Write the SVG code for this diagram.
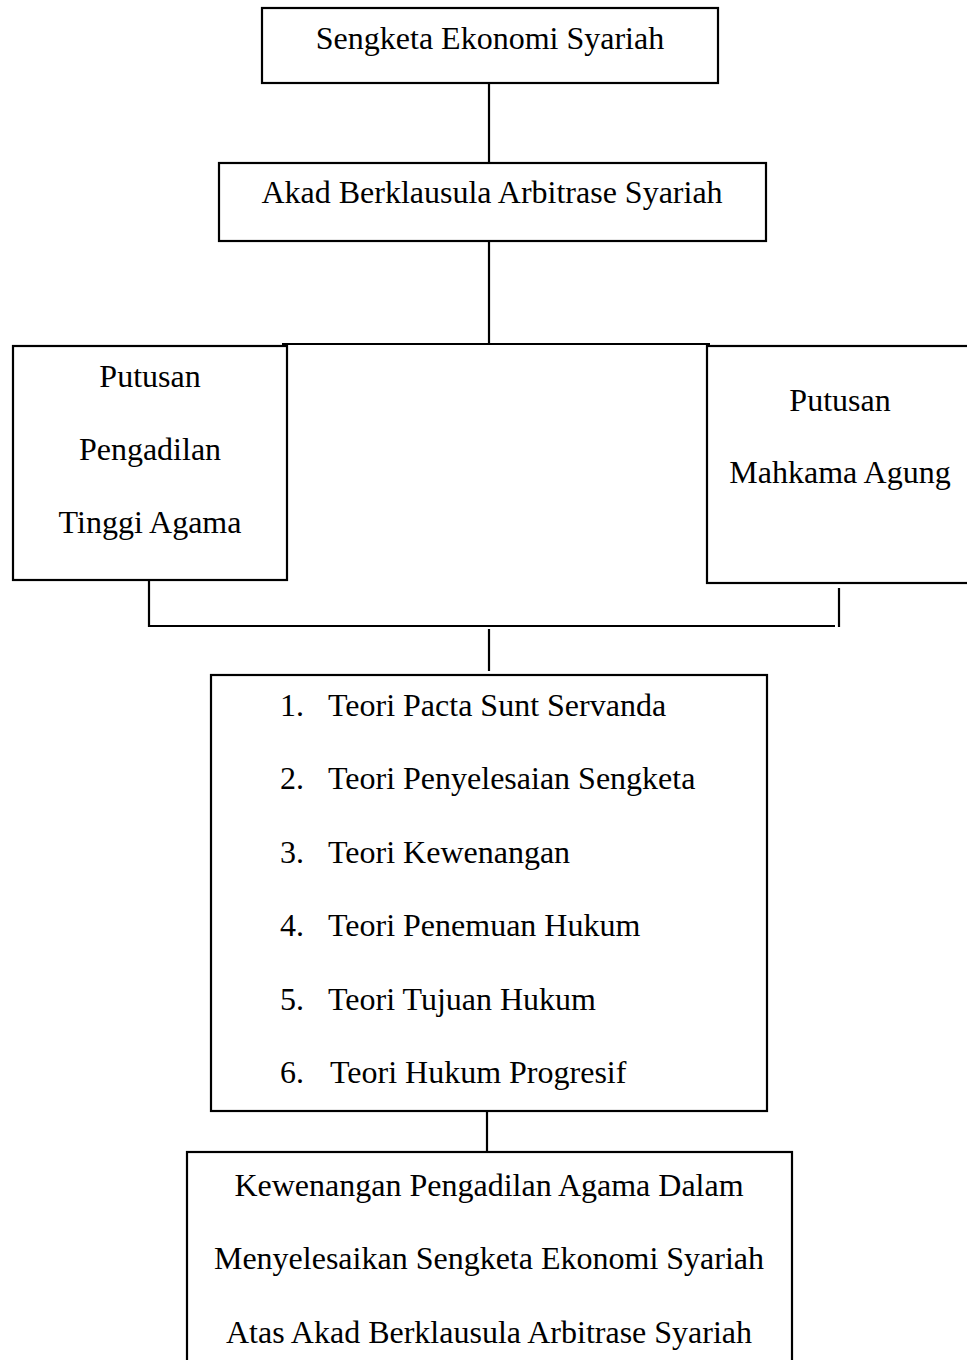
<svg xmlns="http://www.w3.org/2000/svg" width="967" height="1360" viewBox="0 0 967 1360">
<style>
.box{fill:#fff;stroke:#000;stroke-width:2.2}
.ln{fill:none;stroke:#000;stroke-width:2.2}
.t{font-family:"Liberation Serif","Times New Roman",serif;font-size:32px;fill:#000}
.c{text-anchor:middle}
</style>
<rect width="967" height="1360" fill="#fff"/>
<g id="connectors">
<line class="ln" x1="489" y1="83" x2="489" y2="163"/>
<line class="ln" x1="489" y1="241" x2="489" y2="344"/>
<line class="ln" x1="282" y1="344" x2="710" y2="344"/>
<polyline class="ln" points="149,580 149,626 835,626"/>
<line class="ln" x1="839" y1="588" x2="839" y2="627"/>
<line class="ln" x1="489" y1="629" x2="489" y2="671"/>
<line class="ln" x1="487" y1="1111" x2="487" y2="1152"/>
</g>
<g id="sengketa">
<rect class="box" x="262" y="8" width="456" height="75"/>
<text class="t c" x="490" y="49">Sengketa Ekonomi Syariah</text>
</g>
<g id="akad">
<rect class="box" x="219" y="163" width="547" height="78"/>
<text class="t c" x="492" y="203">Akad Berklausula Arbitrase Syariah</text>
</g>
<g id="pta">
<rect class="box" x="13" y="346" width="274" height="234"/>
<text class="t c" x="150" y="387">Putusan</text>
<text class="t c" x="150" y="460">Pengadilan</text>
<text class="t c" x="150" y="533">Tinggi Agama</text>
</g>
<g id="ma">
<rect class="box" x="707" y="346" width="280" height="237"/>
<text class="t c" x="840" y="411">Putusan</text>
<text class="t c" x="840" y="483">Mahkama Agung</text>
</g>
<g id="teori">
<rect class="box" x="211" y="675" width="556" height="436"/>
<text class="t" x="280" y="716">1.</text><text class="t" x="328" y="716">Teori Pacta Sunt Servanda</text>
<text class="t" x="280" y="789">2.</text><text class="t" x="328" y="789">Teori Penyelesaian Sengketa</text>
<text class="t" x="280" y="863">3.</text><text class="t" x="328" y="863">Teori Kewenangan</text>
<text class="t" x="280" y="936">4.</text><text class="t" x="328" y="936">Teori Penemuan Hukum</text>
<text class="t" x="280" y="1010">5.</text><text class="t" x="328" y="1010">Teori Tujuan Hukum</text>
<text class="t" x="280" y="1083">6.</text><text class="t" x="330" y="1083">Teori Hukum Progresif</text>
</g>
<g id="kewenangan">
<rect class="box" x="187" y="1152" width="605" height="220"/>
<text class="t c" x="489" y="1196">Kewenangan Pengadilan Agama Dalam</text>
<text class="t c" x="489" y="1269">Menyelesaikan Sengketa Ekonomi Syariah</text>
<text class="t c" x="489" y="1343">Atas Akad Berklausula Arbitrase Syariah</text>
</g>
</svg>
